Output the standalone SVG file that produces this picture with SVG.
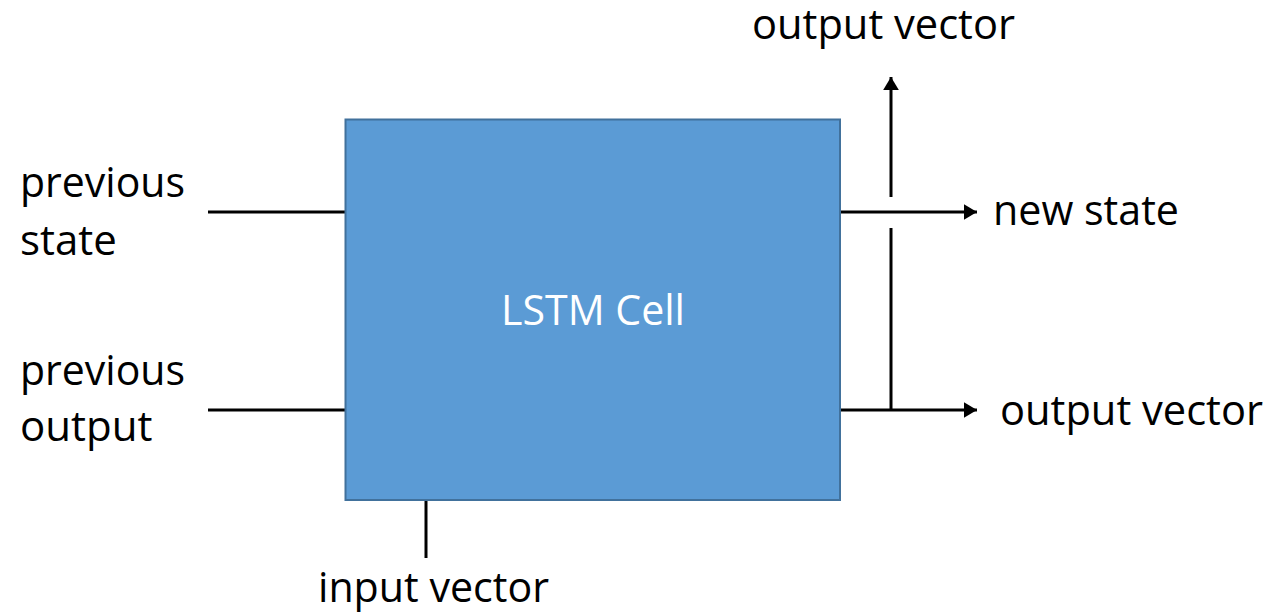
<svg xmlns="http://www.w3.org/2000/svg" width="1269" height="614" viewBox="0 0 1269 614">
<style>
.lbl{font-family:"Open Sans","Liberation Sans",sans-serif;font-size:42px;fill:#000}
.cell{font-family:"Open Sans","Liberation Sans",sans-serif;font-size:42px;fill:#fff}
.ln{stroke:#000;stroke-width:3;fill:none}
</style>
<defs>
<marker id="ah" viewBox="0 0 10 10" refX="10" refY="5" markerWidth="4.4" markerHeight="5.3" markerUnits="strokeWidth" orient="auto" preserveAspectRatio="none">
<path d="M0,0 L10,5 L0,10 Z" fill="#000"/>
</marker>
</defs>
<rect width="1269" height="614" fill="#fff"/>
<g id="connectors">
<line class="ln" x1="208" y1="212" x2="345" y2="212"/>
<line class="ln" x1="208" y1="410" x2="345" y2="410"/>
<line class="ln" x1="426" y1="500" x2="426" y2="558"/>
<line class="ln" x1="840" y1="212" x2="977" y2="212" marker-end="url(#ah)"/>
<line class="ln" x1="840" y1="410" x2="977" y2="410" marker-end="url(#ah)"/>
<line class="ln" x1="891" y1="411" x2="891" y2="228"/>
<line class="ln" x1="891" y1="197" x2="891" y2="77" marker-end="url(#ah)"/>
</g>
<g id="lstm-cell">
<rect x="345.5" y="119.5" width="494.5" height="380.5" fill="#5B9BD5" stroke="#41719C" stroke-width="2"/>
<text class="cell" x="501" y="325" textLength="184" lengthAdjust="spacingAndGlyphs">LSTM Cell</text>
</g>
<g id="previous-state">
<text class="lbl" x="20" y="197" textLength="165" lengthAdjust="spacingAndGlyphs">previous</text>
<text class="lbl" x="20" y="255">state</text>
</g>
<g id="previous-output">
<text class="lbl" x="20" y="385" textLength="165" lengthAdjust="spacingAndGlyphs">previous</text>
<text class="lbl" x="20" y="441">output</text>
</g>
<g id="input-vector">
<text class="lbl" x="318" y="602" textLength="231" lengthAdjust="spacingAndGlyphs">input vector</text>
</g>
<g id="new-state">
<text class="lbl" x="993" y="225" textLength="186" lengthAdjust="spacingAndGlyphs">new state</text>
</g>
<g id="output-vector-right">
<text class="lbl" x="1000" y="425" textLength="263" lengthAdjust="spacingAndGlyphs">output vector</text>
</g>
<g id="output-vector-top">
<text class="lbl" x="752" y="39" textLength="263" lengthAdjust="spacingAndGlyphs">output vector</text>
</g>
</svg>
